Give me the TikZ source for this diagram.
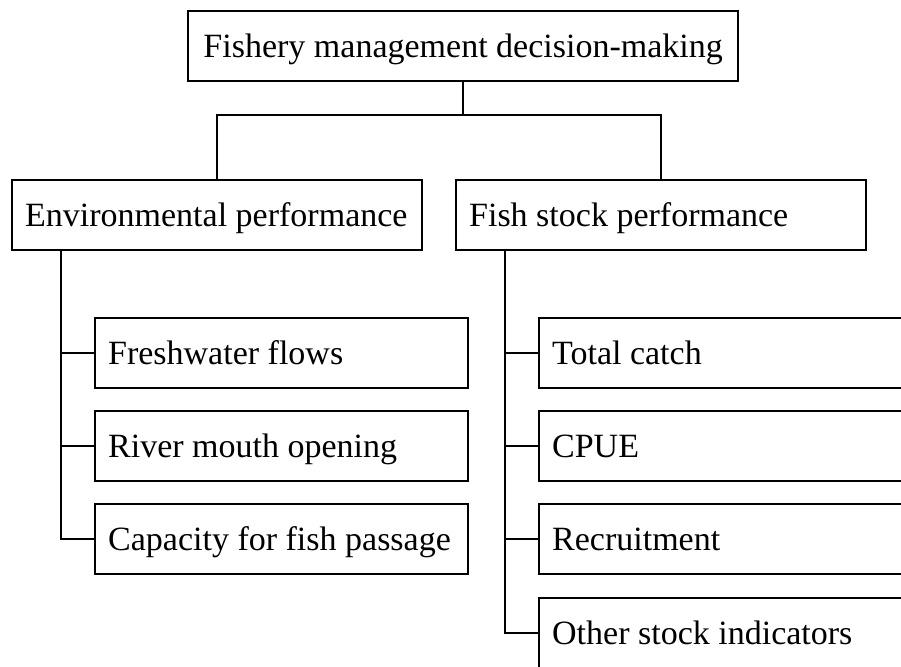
\documentclass[tikz,border=0pt]{standalone}
\usepackage{fontspec}
\setmainfont{Liberation Serif}
\newcommand{\lbox}[2]{\makebox[#1][l]{#2}}
\newcommand{\cbox}[2]{\makebox[#1][c]{#2}}
\begin{document}
\begin{tikzpicture}[x=1pt,y=-1pt,
  box/.style={draw, line width=2.3pt, rectangle, anchor=north west,
    minimum height=70pt, inner xsep=13pt, inner ysep=0pt,
    text height=22.5pt, text depth=0pt,
    font=\fontsize{34}{40}\selectfont},
  conn/.style={line width=2.3pt, line join=miter}]
\useasboundingbox (0,0) rectangle (901,666);
\clip (0,0) rectangle (901,666);

\node[box] (top) at (187,10) {\cbox{524pt}{Fishery management decision-making}};
\node[box] (env) at (11,179) {\lbox{384pt}{Environmental performance}};
\node[box] (fish) at (455,179) {\lbox{384pt}{Fish stock performance}};

\node[box] (f1) at (94,317) {\lbox{347pt}{Freshwater flows}};
\node[box] (f2) at (94,410) {\lbox{347pt}{River mouth opening}};
\node[box] (f3) at (94,503) {\lbox{347pt}{Capacity for fish passage}};

\node[box] (s1) at (538,317) {\lbox{424pt}{Total catch}};
\node[box] (s2) at (538,410) {\lbox{424pt}{CPUE}};
\node[box] (s3) at (538,503) {\lbox{424pt}{Recruitment}};
\node[box] (s4) at (538,597) {\lbox{424pt}{Other stock indicators}};

\coordinate (hub) at ([yshift=-33pt]top.south);
\draw[conn] (top.south) -- (hub);
\draw[conn] (env.north) -- (env.north |- hub) -- (fish.north |- hub) -- (fish.north);

\coordinate (es) at ([xshift=50pt]env.south west);
\draw[conn] (es) |- (f1.west);
\draw[conn] (es) |- (f2.west);
\draw[conn] (es) |- (f3.west);

\coordinate (fs) at ([xshift=50pt]fish.south west);
\draw[conn] (fs) |- (s1.west);
\draw[conn] (fs) |- (s2.west);
\draw[conn] (fs) |- (s3.west);
\draw[conn] (fs) |- (s4.west);
\end{tikzpicture}
\end{document}
